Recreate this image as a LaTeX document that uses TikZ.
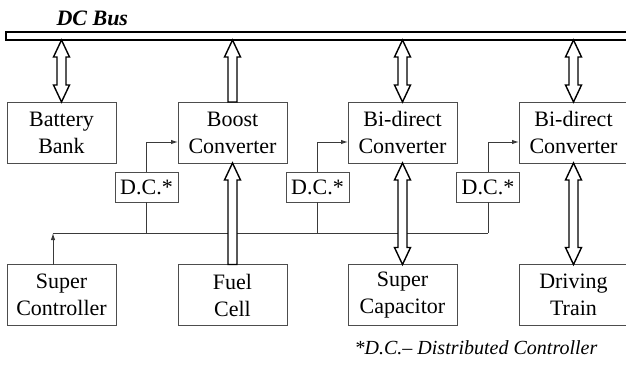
\documentclass[tikz,border=0pt]{standalone}
\usepackage{fontspec}
\setmainfont{Liberation Serif}
\definecolor{boxline}{HTML}{4D4D4D}
\definecolor{wire}{HTML}{3A3A3A}
\usetikzlibrary{arrows.meta, calc}
\tikzset{
  blk/.style={draw=boxline, line width=1pt, minimum width=109pt, minimum height=61pt,
              inner sep=0pt, outer sep=0pt, align=center, font=\fontsize{22}{27}\selectfont},
  dcbox/.style={draw=boxline, line width=1pt, minimum width=63pt, minimum height=30pt,
                inner sep=0pt, outer sep=0pt, font=\fontsize{22}{27}\selectfont},
  sig/.style={draw=wire, line width=1pt},
  sigarr/.style={sig, -{Latex[length=7pt,width=4.5pt]}},
  fat/.style={draw=black, fill=white, line width=1.4pt, line join=miter},
}
\newcommand{\fatboth}[2]{\path[fat] let \p1=(#1), \p2=(#2) in
  (\x1,\y1) -- ++(8pt,-17pt) -- ++(-3.5pt,0pt) -- (\x1+4.5pt,\y2+17pt) -- ++(3.5pt,0pt)
  -- (\x1,\y2) -- ++(-8pt,17pt) -- ++(3.5pt,0pt) -- (\x1-4.5pt,\y1-17pt) -- ++(-3.5pt,0pt) -- cycle;}
\newcommand{\fatup}[2]{\path[fat] let \p1=(#1), \p2=(#2) in
  (\x1-4.5pt,\y1) -- (\x1-4.5pt,\y2-17pt) -- ++(-3.5pt,0pt) -- (\x1,\y2)
  -- (\x1+8pt,\y2-17pt) -- ++(-3.5pt,0pt) -- (\x1+4.5pt,\y1) -- cycle;}
\begin{document}
\begin{tikzpicture}[x=1pt,y=-1pt]
\useasboundingbox (0,0) rectangle (626,367);
\node[draw,line width=1.4pt,minimum width=640pt,minimum height=8pt,inner sep=0pt,outer sep=0pt,
  anchor=north west] (bus) at (6,32) {};
\node[font=\fontsize{22}{25}\selectfont\bfseries\itshape,anchor=base west] (buslbl) at (53,25) {DC Bus};
\foreach \n/\x/\a/\b in {bat/61.5/Battery/Bank,boost/232.5/Boost/Converter,
  bi1/402.5/Bi-direct/Converter,bi2/573.5/Bi-direct/Converter}
  \node[blk] (\n) at (\x,132.5) {\a\\\b};
\foreach \n/\x/\a/\b in {sup/61.5/Super/Controller,fuel/232.5/Fuel/Cell,
  cap/402.5/Super/Capacitor,train/573.5/Driving/Train}
  \node[blk] (\n) at (\x,295) {\a\\\b};
\foreach \i/\x in {1/146.5,2/317.5,3/488}
  \node[dcbox] (dc\i) at (\x,187) {D.C.*};
\foreach \i/\t in {1/boost,2/bi1,3/bi2}
  \draw[sigarr] (dc\i.north) |- ([yshift=-9.5pt]\t.west);
\coordinate (bl) at (53,233);
\draw[sigarr] ([xshift=-8.5pt]sup.north) -- (bl);
\draw[sig] (bl) -- (bl -| dc3.south);
\foreach \i in {1,2,3}
  \draw[sig] (dc\i.south) -- (dc\i.south |- bl);
\fatboth{bat.north |- bus.south}{bat.north}
\fatup{boost.north}{boost.north |- bus.south}
\fatup{fuel.north}{boost.south}
\fatboth{bi1.north |- bus.south}{bi1.north}
\fatboth{bi1.south}{cap.north}
\fatboth{bi2.north |- bus.south}{bi2.north}
\fatboth{bi2.south}{train.north}
\node[font=\fontsize{20}{24}\selectfont\itshape] (note) at (476,348) {*D.C.-- Distributed Controller};
\end{tikzpicture}
\end{document}
